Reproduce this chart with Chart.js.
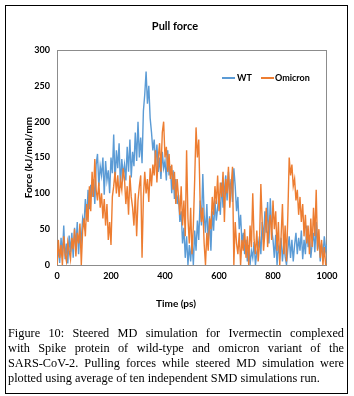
<!DOCTYPE html>
<html>
<head>
<meta charset="utf-8">
<script src="https://cdn.jsdelivr.net/npm/chart.js@4"></script>
<style>
  html, body { margin: 0; padding: 0; background: #fff; }
  body { width: 354px; height: 396px; position: relative; overflow: hidden; }
  #frame { position: absolute; left: 5px; top: 5px; width: 341px; height: 387px; border: 1px solid #000; }
  #chart { position: absolute; left: 0; top: 0; }
  .lbl { position: absolute; font-family: Lato, sans-serif; font-weight: bold; color: #000; white-space: nowrap; }
  #title { left: 0; width: 350px; top: 19px; text-align: center; font-size: 11px; }
  #xtitle { left: 0; width: 352px; top: 297px; text-align: center; font-size: 10px; }
  .key { position: absolute; height: 2px; top: 77px; width: 13px; }
  .keytxt { top: 72px; font-size: 9px; }
  #caption { position: absolute; left: 8px; top: 326px; width: 336px; font-family: "Liberation Serif", serif; font-size: 12.3px; line-height: 15px; color: #000; }
  #caption div { text-align: justify; text-align-last: justify; white-space: nowrap; }
  #caption div.last { text-align-last: left; }
</style>
</head>
<body>
<div id="frame"></div>
<canvas id="chart" width="354" height="310"></canvas>
<div id="title" class="lbl">Pull force</div>
<div id="xtitle" class="lbl">Time (ps)</div>
<div class="key" style="left:222px; background:#5B9BD5;"></div>
<div class="lbl keytxt" style="left:237px;">WT</div>
<div class="key" style="left:261px; background:#ED7D31;"></div>
<div class="lbl keytxt" style="left:275px;">Omicron</div>
<div id="caption">
  <div>Figure 10: Steered MD simulation for Ivermectin complexed</div>
  <div>with Spike protein of wild-type and omicron variant of the</div>
  <div>SARS-CoV-2. Pulling forces while steered MD simulation were</div>
  <div class="last">plotted using average of ten independent SMD simulations run.</div>
</div>
<script>
const timePs = [
  0, 5, 10, 15, 20, 25, 30, 35, 40, 45, 50, 55, 60, 65, 70, 75, 80, 85, 90, 95,
  100, 105, 110, 115, 120, 125, 130, 135, 140, 145, 150, 155, 160, 165, 170, 175, 180, 185, 190, 195,
  200, 205, 210, 215, 220, 225, 230, 235, 240, 245, 250, 255, 260, 265, 270, 275, 280, 285, 290, 295,
  300, 305, 310, 315, 320, 325, 330, 335, 340, 345, 350, 355, 360, 365, 370, 375, 380, 385, 390, 395,
  400, 405, 410, 415, 420, 425, 430, 435, 440, 445, 450, 455, 460, 465, 470, 475, 480, 485, 490, 495,
  500, 505, 510, 515, 520, 525, 530, 535, 540, 545, 550, 555, 560, 565, 570, 575, 580, 585, 590, 595,
  600, 605, 610, 615, 620, 625, 630, 635, 640, 645, 650, 655, 660, 665, 670, 675, 680, 685, 690, 695,
  700, 705, 710, 715, 720, 725, 730, 735, 740, 745, 750, 755, 760, 765, 770, 775, 780, 785, 790, 795,
  800, 805, 810, 815, 820, 825, 830, 835, 840, 845, 850, 855, 860, 865, 870, 875, 880, 885, 890, 895,
  900, 905, 910, 915, 920, 925, 930, 935, 940, 945, 950, 955, 960, 965, 970, 975, 980, 985, 990, 995,
  1000
];

// pull force, kJ/mol/nm
const wtForce = [
  5, 22, 3, 38, 12, 55, 8, 30, 2, 41,
  18, 45, 10, 52, 25, 60, 15, 48, 35, 65,
  55, 92, 62, 105, 78, 112, 95, 120, 85, 140,
  155, 110, 138, 125, 150, 98, 145, 118, 132, 100,
  150, 128, 182, 115, 160, 135, 170, 108, 148, 125,
  140, 118, 165, 130, 175, 122, 158, 138, 185, 145,
  200, 150, 178, 142, 215, 238, 270, 225, 250, 205,
  185, 160, 175, 140, 168, 130, 150, 120, 158, 135,
  145, 118, 160, 125, 138, 100, 132, 92, 120, 85,
  98, 60, 75, 30, 52, 10, 40, 0, 28, 5,
  35, 0, 48, 20, 62, 35, 90, 55, 127, 70,
  45, 85, 30, 68, 20, 75, 48, 90, 62, 80,
  95, 70, 115, 80, 105, 125, 90, 130, 100, 120,
  88, 135, 110, 75, 95, 50, 70, 30, 45, 15,
  35, 5, 28, 0, 20, 10, 32, 0, 18, 25,
  40, 15, 60, 35, 75, 45, 88, 30, 93, 50,
  35, 10, 42, 0, 25, 15, 38, 5, 30, 12,
  0, 22, 40, 10, 35, 5, 28, 45, 15, 38,
  20, 48, 8, 35, 15, 55, 25, 42, 10, 30,
  45, 18, 60, 22, 38, 5, 30, 12, 40, 20,
  28
];

const omicronForce = [
  0, 35, 10, 28, 0, 40, 15, 5, 32, 20,
  8, 38, 22, 50, 12, 45, 30, 58, 0, 48,
  65, 40, 85, 60, 110, 75, 130, 95, 148, 105,
  90, 115, 80, 100, 65, 92, 55, 85, 35, 60,
  28, 95, 110, 130, 100, 125, 95, 118, 105, 135,
  120, 85, 110, 70, 125, 95, 80, 55, 100, 40,
  90, 110, 125, 10, 95, 130, 100, 120, 88, 135,
  110, 140, 125, 160, 115, 150, 170, 130, 185, 200,
  150, 165, 130, 155, 120, 140, 105, 130, 85, 120,
  95, 70, 110, 55, 90, 40, 160, 65, 30, 80,
  15, 55, 120, 192, 150, 175, 90, 60, 80, 30,
  0, 45, 20, 65, 50, 95, 70, 110, 85, 125,
  75, 115, 95, 130, 60, 120, 100, 137, 80, 110,
  137, 0, 60, 30, 15, 45, 0, 35, 20, 50,
  10, 40, 0, 55, 25, 100, 35, 15, 48, 5,
  30, 113, 60, 20, 45, 80, 25, 55, 70, 35,
  90, 50, 75, 20, 60, 0, 40, 85, 15, 55,
  5, 70, 150, 125, 140, 110, 120, 90, 105, 70,
  95, 60, 85, 40, 70, 30, 55, 15, 65, 25,
  80, 40, 105, 20, 50, 10, 35, 0, 25, 0,
  0
];

const xTicks = [0, 200, 400, 600, 800, 1000];
const yTicks = [0, 50, 100, 150, 200, 250, 300];

const tickFont = { family: "Lato", weight: "bold", size: 9 };

// grey box round the plot area, like the excel chart
const plotBorder = {
  id: "plotBorder",
  beforeDatasetsDraw(chart) {
    const { ctx, chartArea } = chart;
    ctx.save();
    ctx.strokeStyle = "#8c8c8c";
    ctx.lineWidth = 1;
    ctx.strokeRect(chartArea.left + 0.5, chartArea.top + 0.5,
      chartArea.right - chartArea.left - 1, chartArea.bottom - chartArea.top);
    ctx.restore();
  },
};

new Chart(document.getElementById("chart"), {
  type: "line",
  data: {
    datasets: [
      {
        label: "WT",
        data: wtForce.map((v, i) => ({ x: timePs[i], y: v })),
        borderColor: "#5B9BD5",
        borderWidth: 1.4,
        pointRadius: 0,
        order: 2,
      },
      {
        label: "Omicron",
        data: omicronForce.map((v, i) => ({ x: timePs[i], y: v })),
        borderColor: "#ED7D31",
        borderWidth: 1.4,
        pointRadius: 0,
        order: 1,
      },
    ],
  },
  options: {
    responsive: false,
    animation: false,
    devicePixelRatio: 1,
    layout: { padding: { top: 50, right: 27, left: 0, bottom: 0 } },
    plugins: {
      legend: { display: false },
      tooltip: { enabled: false },
    },
    scales: {
      x: {
        type: "linear",
        min: 0,
        max: 1000,
        afterBuildTicks: (axis) => { axis.ticks = xTicks.map((v) => ({ value: v })); },
        afterFit: (axis) => { axis.height = 45; },
        grid: { display: false, drawTicks: false },
        border: { display: false },
        ticks: { font: tickFont, color: "#000", padding: 6, maxRotation: 0, callback: (v) => String(v) },
      },
      y: {
        min: 0,
        max: 300,
        afterBuildTicks: (axis) => { axis.ticks = yTicks.map((v) => ({ value: v })); },
        afterFit: (axis) => { axis.width = 57; },
        grid: { display: false, drawTicks: false },
        border: { display: false },
        ticks: { font: tickFont, color: "#000", padding: 7, callback: (v) => String(v) },
        title: {
          display: true,
          text: "Force (kJ/mol/mm",
          color: "#000",
          font: { family: "Lato", weight: "bold", size: 10 },
          padding: { top: 23, bottom: 0 },
        },
      },
    },
  },
  plugins: [plotBorder],
});
</script>
</body>
</html>
